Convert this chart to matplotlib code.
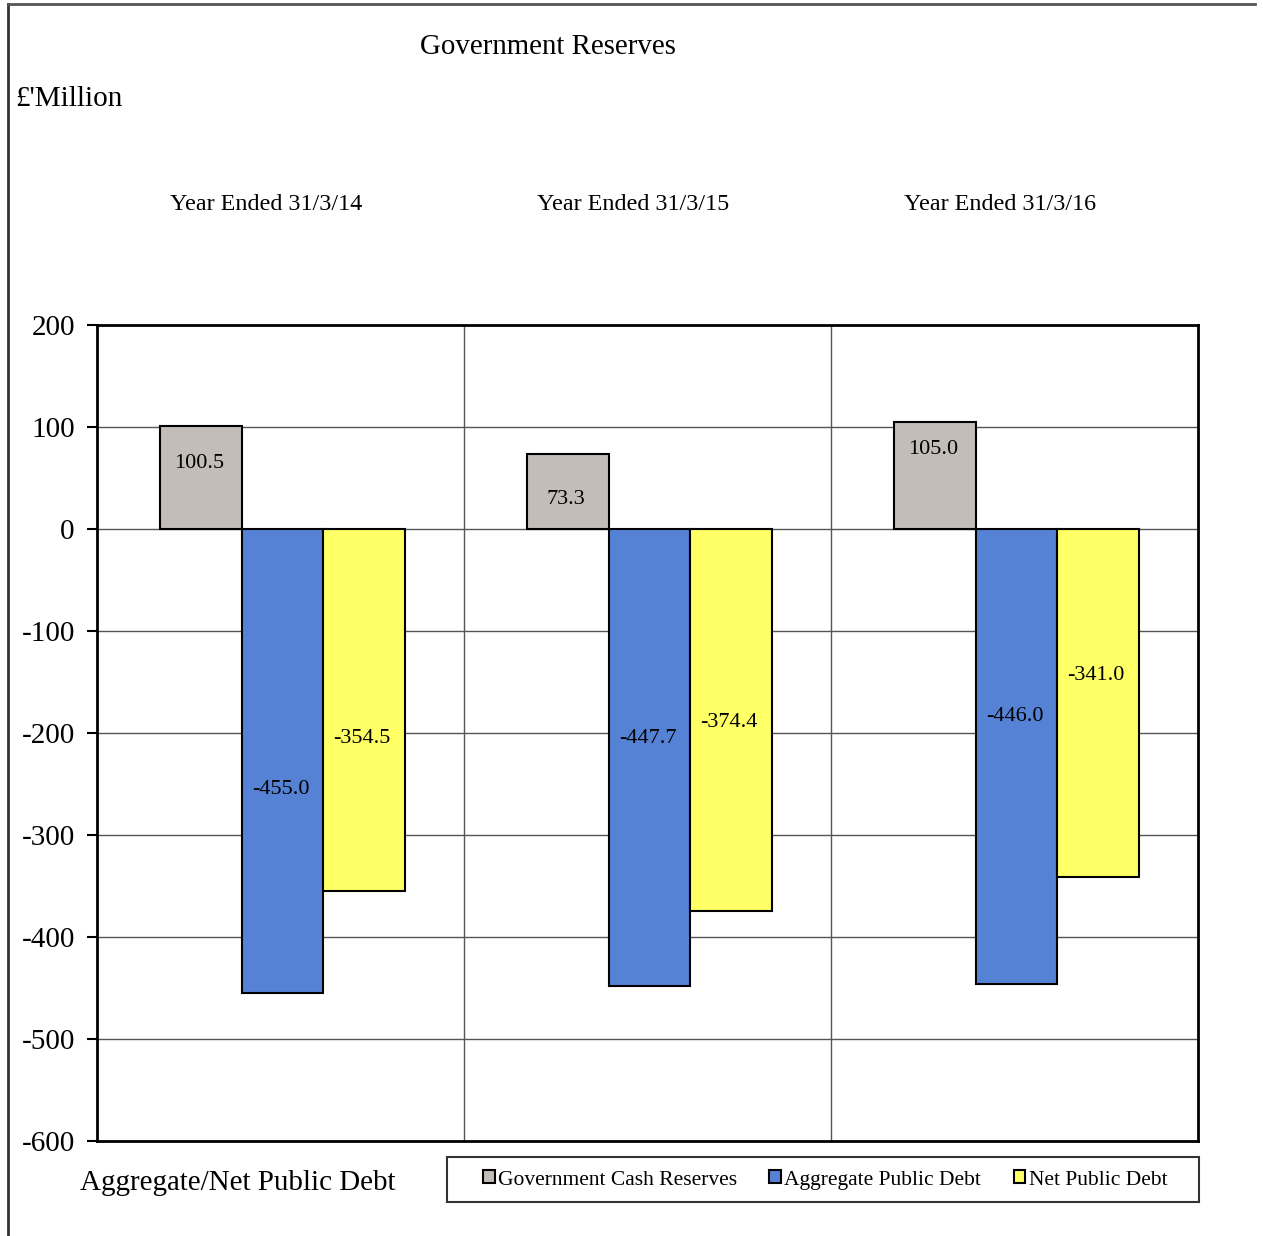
import numpy as np
import matplotlib
matplotlib.use("Agg")
import matplotlib.pyplot as plt
from matplotlib.lines import Line2D
from matplotlib.patches import Rectangle
from matplotlib.ticker import MultipleLocator, FixedLocator
import matplotlib.transforms as mtransforms

plt.rcParams['font.family'] = ['Liberation Serif', 'DejaVu Serif']
plt.rcParams['axes.unicode_minus'] = False

years = ['Year Ended 31/3/14', 'Year Ended 31/3/15', 'Year Ended 31/3/16']
series = ['Government Cash Reserves', 'Aggregate Public Debt', 'Net Public Debt']
cash_reserves = [100.5, 73.3, 105.0]
aggregate_debt = [-455.0, -447.7, -446.0]
net_debt = [-354.5, -374.4, -341.0]

# where each value label sits inside its bar (data units)
label_y = [
    [64.7, 29.4, 77.5],
    [-255, -205, -184],
    [-205, -190, -144],
]

colors = ['#c3bdb8', '#5682d6', '#ffff66']

fig = plt.figure(figsize=(12.63, 12.36), dpi=100)
ax = fig.add_axes([97 / 1263, 1 - 1141 / 1236, 1101 / 1263, 816 / 1236])

x = np.arange(len(years))
width = 0.222
offsets = [-width, 0, width]
values = [cash_reserves, aggregate_debt, net_debt]

for k in range(3):
    ax.bar(x + offsets[k] + 0.005, values[k], width, color=colors[k], edgecolor='black',
           linewidth=1.5, label=series[k], zorder=3)
    for i in range(3):
        ax.text(x[i] + offsets[k], label_y[k][i], f'{values[k][i]:.1f}',
                ha='center', va='center', fontsize=16, zorder=4)

ax.set_xlim(-0.5, 2.5)
ax.set_ylim(-600, 200)
ax.yaxis.set_major_locator(MultipleLocator(100))
ax.tick_params(axis='y', labelsize=21, length=7, width=1.5, direction='out', pad=9)
ax.set_xticks([])
ax.xaxis.set_minor_locator(FixedLocator([0.5, 1.5]))
ax.tick_params(axis='x', which='minor', length=0)
ax.grid(True, axis='y', color='#555555', linewidth=1.0, zorder=0)
ax.grid(True, axis='x', which='minor', color='#555555', linewidth=1.0, zorder=0)
for s in ax.spines.values():
    s.set_linewidth(2)

# year headings above each group
trans = mtransforms.blended_transform_factory(ax.transData, fig.transFigure)
for i, yr in enumerate(years):
    ax.text(x[i] - 0.04, 1 - 204 / 1236, yr, transform=trans, ha='center',
            va='center', fontsize=17.4)

fig.text(548 / 1263, 1 - 47 / 1236, 'Government Reserves', ha='center',
         va='center', fontsize=20.8)
fig.text(15 / 1263, 1 - 99 / 1236, "£'Million", ha='left', va='center', fontsize=21)
fig.text(80 / 1263, 1 - 1183 / 1236, 'Aggregate/Net Public Debt', ha='left',
         va='center', fontsize=20.9)

# legend box, drawn under the legend entries
box = Rectangle((447 / 1263, 1 - 1202 / 1236), 752 / 1263, 45 / 1236,
                transform=fig.transFigure, facecolor='white',
                edgecolor='#333333', linewidth=1.5, zorder=1, clip_on=False)
ax.add_artist(box)
leg = ax.legend(loc='center', bbox_to_anchor=(825 / 1263, 1 - 1180 / 1236),
                bbox_transform=fig.transFigure, ncol=3, fontsize=15.5,
                frameon=False, handlelength=0.55, handleheight=0.55,
                handletextpad=0.15, borderaxespad=0, columnspacing=1.5)
leg.set_zorder(6)

# outer frame lines
fig.add_artist(Line2D([8 / 1263, 8 / 1263], [0, 1 - 4 / 1236], transform=fig.transFigure,
                      color='#333333', linewidth=2))
fig.add_artist(Line2D([8 / 1263, 1255 / 1263], [1 - 4 / 1236, 1 - 4 / 1236],
                      transform=fig.transFigure, color='#555555', linewidth=2))

fig.savefig('out.png', dpi=100)
